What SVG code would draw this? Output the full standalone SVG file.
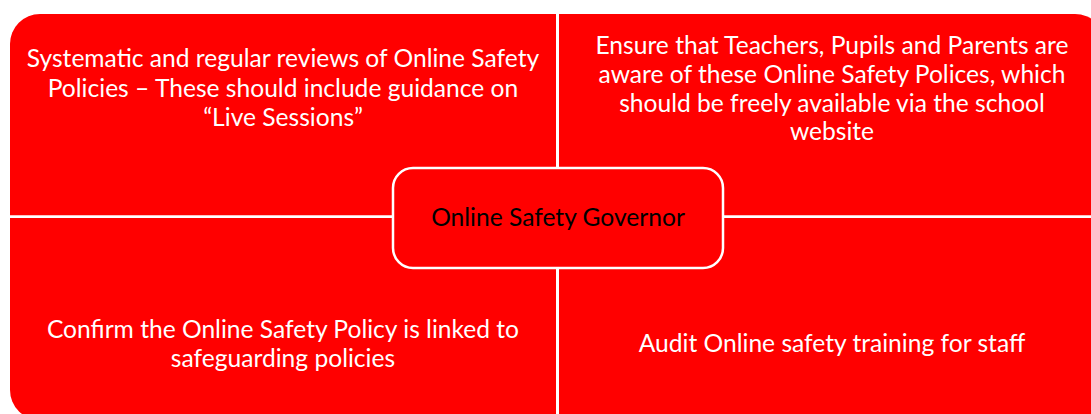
<svg xmlns="http://www.w3.org/2000/svg" width="1091" height="414" viewBox="0 0 1091 414">
  <style>
    .quad { fill: #ff0000; }
    .lbl { font-family: Lato, "Open Sans", "Liberation Sans", sans-serif; font-size: 24.6px; fill: #ffffff; text-anchor: middle; }
    .hub { fill: #ff0000; stroke: #ffffff; stroke-width: 2.5; }
    .hublbl { font-family: Lato, "Open Sans", "Liberation Sans", sans-serif; font-size: 24.6px; fill: #000000; text-anchor: middle; }
    .div { stroke: #ffffff; stroke-width: 2.5; fill: none; }
  </style>
  <rect width="1091" height="414" fill="#ffffff"/>
  <g id="quad-top-left">
    <path class="quad" d="M10,44 A30,30 0 0 1 40,14 L556,14 L556,215.5 L10,215.5 Z"/>
    <text class="lbl" x="283" y="67">Systematic and regular reviews of Online Safety</text>
    <text class="lbl" x="283" y="97">Policies – These should include guidance on</text>
    <text class="lbl" x="283" y="126">“Live Sessions”</text>
  </g>
  <g id="quad-top-right">
    <path class="quad" d="M559,14 L1075,14 A30,30 0 0 1 1105,44 L1105,215.5 L559,215.5 Z"/>
    <text class="lbl" x="832" y="54">Ensure that Teachers, Pupils and Parents are</text>
    <text class="lbl" x="832" y="83">aware of these Online Safety Polices, which</text>
    <text class="lbl" x="832" y="112">should be freely available via the school</text>
    <text class="lbl" x="832" y="140">website</text>
  </g>
  <g id="quad-bottom-left">
    <path class="quad" d="M10,218 L556,218 L556,420 L40,420 A30,30 0 0 1 10,390 Z"/>
    <text class="lbl" x="283" y="338">Confirm the Online Safety Policy is linked to</text>
    <text class="lbl" x="283" y="367">safeguarding policies</text>
  </g>
  <g id="quad-bottom-right">
    <path class="quad" d="M559,218 L1105,218 L1105,390 A30,30 0 0 1 1075,420 L559,420 Z"/>
    <text class="lbl" x="832" y="352">Audit Online safety training for staff</text>
  </g>
  <g id="connectors">
    <line class="div" x1="557.5" y1="14" x2="557.5" y2="420"/>
    <line class="div" x1="10" y1="216.8" x2="1105" y2="216.8"/>
  </g>
  <g id="hub-governor">
    <rect class="hub" x="393" y="168" width="330" height="100" rx="20" ry="20"/>
    <text class="hublbl" x="558" y="226">Online Safety Governor</text>
  </g>
</svg>
